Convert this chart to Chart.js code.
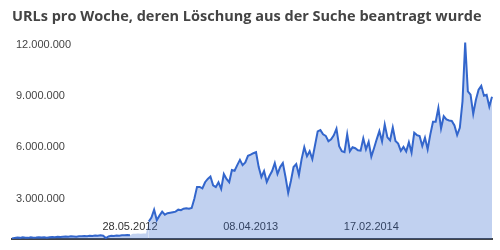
<!DOCTYPE html>
<html>
<head>
<meta charset="utf-8">
<script src="https://cdn.jsdelivr.net/npm/chart.js@4.4.0/dist/chart.umd.min.js"></script>
<style>
  html, body { margin: 0; padding: 0; background: #fff; }
  #chart { display: block; }
</style>
</head>
<body>
<canvas id="chart" width="500" height="250"></canvas>
<script>
// URLs per week, in thousands (weeks from 25.07.2011)
const weeklyUrls = [
  60, 90, 110, 90, 120, 100, 90, 120, 100, 110,
  130, 110, 120, 100, 120, 140, 130, 150, 140, 160,
  170, 150, 180, 170, 160, 190, 180, 200, 190, 220,
  200, 230, 210, 240, 220, 80, 170, 210, 200, 230,
  220, 240, 250, 260, 250,
  330, 330, 340, 330, 340, 340,
  1045, 1277, 1741, 1132, 1393, 1625, 1451, 1538, 1567, 1596,
  1625, 1741, 1712, 1799, 1828, 1799, 1840, 2380, 3076, 3076,
  2989, 3349, 3540, 3685, 3163, 3059, 3349, 2960, 3831, 3540,
  3349, 4063, 4022, 4353, 4660, 4353, 4510, 4893, 4962, 5049,
  5107, 4237, 3656, 4005, 3366, 3714, 4005, 4469, 3831, 4237,
  4469, 3656, 2728, 3424, 4237, 4411, 3773, 4701, 5398, 4875,
  5165, 4701, 5514, 6326, 6402, 6152, 6065, 5746, 5862, 6094,
  6483, 5456, 5165, 5107, 6152, 5165, 5398, 5340, 5223, 5195,
  5920, 5282, 5717, 4846, 5340, 5862, 6344, 5746, 6733, 5978,
  5804, 6558, 5763, 5612, 5183, 5415, 5148, 5688, 5090, 6251,
  6111, 6053, 5473, 5961, 5282, 6152, 6889, 6889, 7702, 6500,
  7214, 7023, 6965, 6936, 6674, 6111, 6541, 8085, 11532, 8665,
  8474, 7353, 8183, 8764, 8996, 8416, 8474, 7777, 8357
];
// weeks without a drawn line (the fill continues)
const gapStart = 44;
const gapEnd = 51;

const tickDates = ['28.05.2012', '08.04.2013', '17.02.2014'];
const tickValues = [3000, 6000, 9000, 12000];

// weekly category labels, starting Monday 25.07.2011
const weeks = [];
const first = new Date(2011, 6, 25);
for (let i = 0; i < weeklyUrls.length; i++) {
    const d = new Date(first.getFullYear(), first.getMonth(), first.getDate() + 7 * i);
    const dd = String(d.getDate()).padStart(2, '0');
    const mm = String(d.getMonth() + 1).padStart(2, '0');
    weeks.push(dd + '.' + mm + '.' + d.getFullYear());
}

function germanNumber(v) {
    return String(Math.round(v)).replace(/\B(?=(\d{3})+(?!\d))/g, '.');
}

const ctx = document.getElementById('chart').getContext('2d');
const chart = new Chart(ctx, {
    type: 'line',
    data: {
        labels: weeks,
        datasets: [{
            label: 'URLs pro Woche',
            data: weeklyUrls,
            borderColor: '#3366cc',
            backgroundColor: 'rgba(51, 102, 204, 0.3)',
            borderWidth: 2,
            fill: 'origin',
            pointRadius: 0,
            tension: 0,
            segment: {
                borderColor: c => (c.p0DataIndex >= gapStart && c.p1DataIndex <= gapEnd) ? 'rgba(0,0,0,0)' : undefined
            }
        }]
    },
    options: {
        responsive: false,
        animation: false,
        devicePixelRatio: 1,
        layout: { padding: { left: 12, right: 8, top: 0, bottom: 0 } },
        plugins: {
            legend: { display: false },
            tooltip: { enabled: false },
            title: {
                display: true,
                text: 'URLs pro Woche, deren Löschung aus der Suche beantragt wurde',
                align: 'start',
                color: '#444',
                font: { family: '"Open Sans", sans-serif', size: 14.5, weight: 'bold', lineHeight: 1.2 },
                padding: { top: 8, bottom: 0.6 }
            }
        },
        scales: {
            x: {
                z: 1,
                grid: { display: false },
                border: { display: true, color: '#444', width: 2 },
                afterFit: scale => { scale.height = 9; },
                ticks: {
                    autoSkip: false,
                    maxRotation: 0,
                    mirror: true,
                    padding: 6,
                    color: '#333',
                    textStrokeColor: '#fff',
                    textStrokeWidth: 3,
                    font: { family: 'Arial, "Liberation Sans", sans-serif', size: 11 },
                    callback: function(value) {
                        const lab = this.getLabelForValue(value);
                        return tickDates.includes(lab) ? lab : '';
                    }
                }
            },
            y: {
                min: 0,
                max: 12500,
                grid: { display: false },
                border: { display: false },
                afterFit: scale => { scale.width = 0; },
                afterBuildTicks: scale => { scale.ticks = tickValues.map(v => ({ value: v })); },
                ticks: {
                    mirror: true,
                    padding: 4,
                    labelOffset: 10.5,
                    color: '#444',
                    font: { family: 'Arial, "Liberation Sans", sans-serif', size: 11 },
                    callback: v => germanNumber(v * 1000)
                }
            }
        }
    }
});
</script>
</body>
</html>
